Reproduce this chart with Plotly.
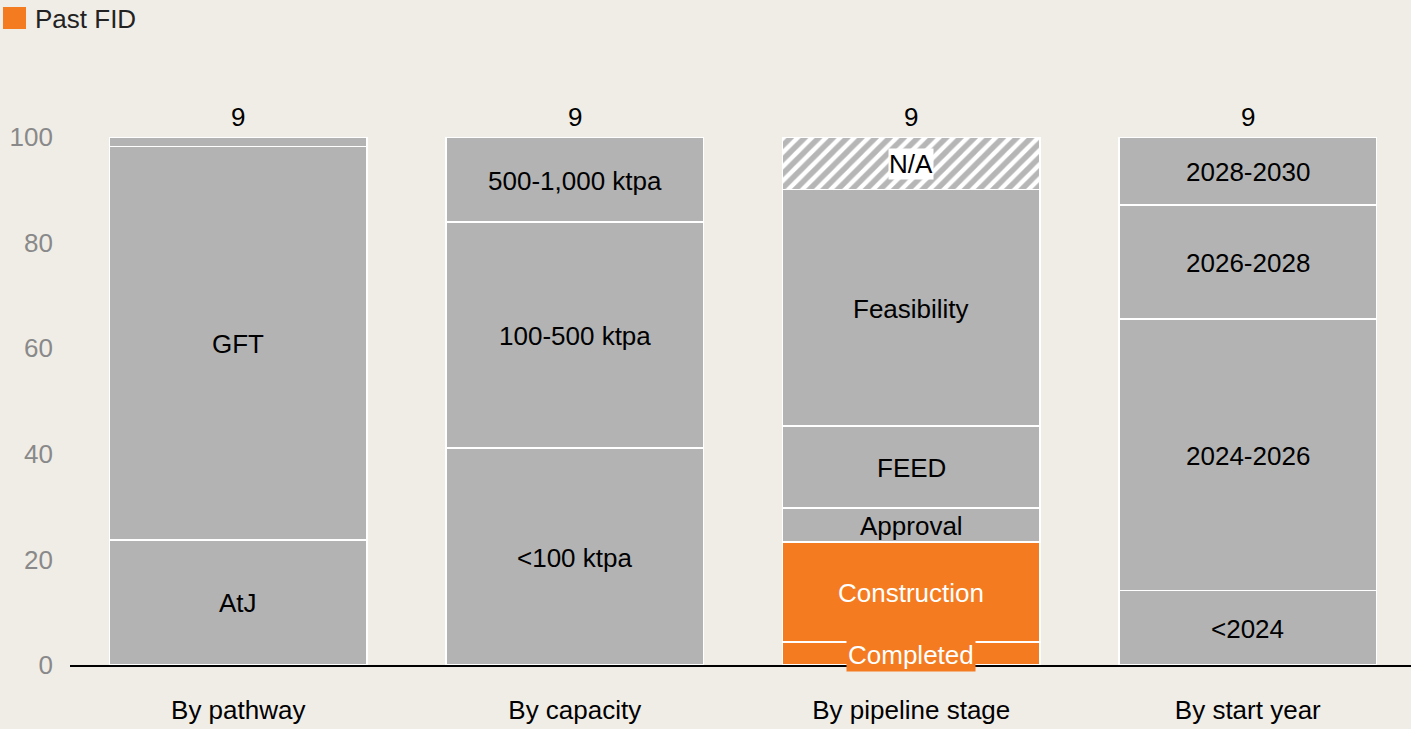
import plotly.graph_objects as go

categories = ["By pathway", "By capacity", "By pipeline stage", "By start year"]
totals = [9, 9, 9, 9]

pathway_labels = ["AtJ", "GFT", ""]
pathway_values = [23.7, 74.5, 1.8]

capacity_labels = ["<100 ktpa", "100-500 ktpa", "500-1,000 ktpa"]
capacity_values = [41.1, 42.8, 16.1]

stage_labels = ["Completed", "Construction", "Approval", "FEED", "Feasibility", "N/A"]
stage_values = [4.4, 18.9, 6.4, 15.6, 44.8, 9.9]

start_labels = ["<2024", "2024-2026", "2026-2028", "2028-2030"]
start_values = [14.1, 51.4, 21.6, 12.9]

past_fid = ["Completed", "Construction"]
not_available = ["N/A"]

BG = "#F0EDE7"
GREY = "#B3B3B3"
ORANGE = "#F57B20"
FONT = "Arial, Liberation Sans, sans-serif"

groups = [
    (categories[0], pathway_labels, pathway_values),
    (categories[1], capacity_labels, capacity_values),
    (categories[2], stage_labels, stage_values),
    (categories[3], start_labels, start_values),
]

fig = go.Figure()
annotations = []

for cat, labels, values in groups:
    base = 0.0
    for lab, val in zip(labels, values):
        if lab in past_fid:
            marker = dict(color=ORANGE, line=dict(color="white", width=1.5))
            tcol = "white"
        elif lab in not_available:
            marker = dict(color="white", line=dict(color="white", width=1.5),
                          pattern=dict(shape="/", fgcolor="#6E6E6E", bgcolor="white",
                                       size=10, solidity=0.55, fillmode="overlay"))
            tcol = "black"
        else:
            marker = dict(color=GREY, line=dict(color="white", width=1.5))
            tcol = "black"
        fig.add_trace(go.Bar(x=[cat], y=[val], marker=marker, width=0.764,
                             showlegend=False, hoverinfo="skip"))
        if lab:
            ann = dict(x=cat, y=base + val / 2, xref="x", yref="y", text=lab,
                       showarrow=False, yshift=-1,
                       font=dict(family=FONT, size=26, color=tcol))
            if lab == "Completed":
                ann.update(bgcolor=ORANGE, borderpad=1, yshift=-2)
            elif lab in not_available:
                ann.update(bgcolor="white", borderpad=0)
            annotations.append(ann)
        base += val

for cat, tot in zip(categories, totals):
    annotations.append(dict(x=cat, y=100, xref="x", yref="y", text=str(tot),
                            showarrow=False, yanchor="bottom", yshift=3,
                            font=dict(family=FONT, size=26, color="black")))

# legend (Past FID)
L, T, W, H = 70, 137, 1341, 528
def px_x(p):
    return (p - L) / W
def px_y(p):
    return (T + H - p) / H

fig.add_shape(type="rect", xref="paper", yref="paper",
              x0=px_x(3), x1=px_x(26), y0=px_y(29), y1=px_y(7),
              fillcolor=ORANGE, line=dict(width=0))
annotations.append(dict(x=px_x(33), y=px_y(19), xref="paper", yref="paper",
                        text="Past FID", showarrow=False, xanchor="left", yanchor="middle",
                        font=dict(family=FONT, size=26, color="#222222")))

fig.update_layout(
    barmode="stack",
    width=1411, height=729,
    margin=dict(l=L, r=0, t=T, b=64),
    paper_bgcolor=BG, plot_bgcolor=BG,
    annotations=annotations,
    showlegend=False,
    xaxis=dict(type="category", range=[-0.5, 3.485], showgrid=False,
               showline=True, linecolor="black", linewidth=2,
               ticks="", ticklabelstandoff=21,
               tickfont=dict(family=FONT, size=26, color="black")),
    yaxis=dict(range=[0, 100], tickvals=[0, 20, 40, 60, 80, 100], showgrid=False,
               zeroline=False, showline=False, ticks="", ticklabelstandoff=16,
               tickfont=dict(family=FONT, size=26, color="#898989")),
)

fig.write_html("out.html")
